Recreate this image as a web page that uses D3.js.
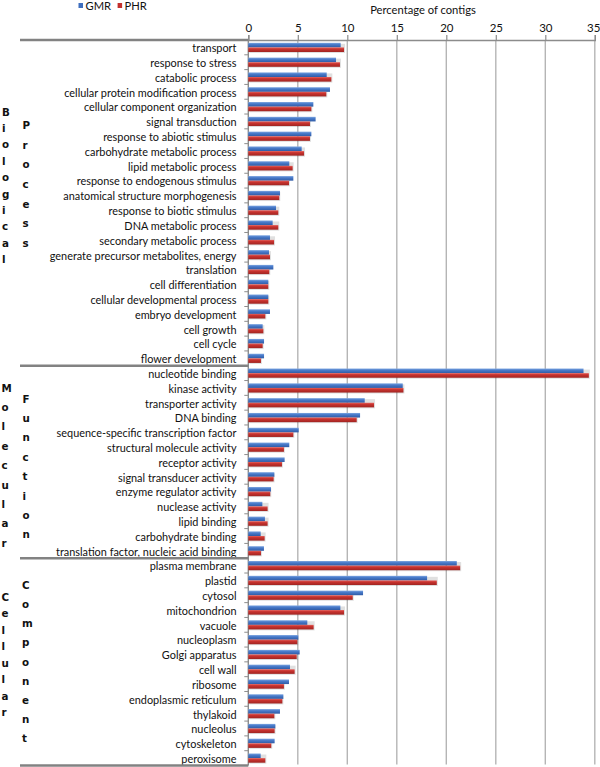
<!DOCTYPE html>
<html>
<head>
<meta charset="utf-8">
<script src="https://cdn.jsdelivr.net/npm/d3@7"></script>
<style>
  body { margin: 0; background: #fff; }
  svg { display: block; }
</style>
</head>
<body>
<svg width="600" height="767"></svg>
<script>
// GO categories, top to bottom
var categories = [
  "transport", "response to stress", "catabolic process", "cellular protein modification process",
  "cellular component organization", "signal transduction", "response to abiotic stimulus",
  "carbohydrate metabolic process", "lipid metabolic process", "response to endogenous stimulus",
  "anatomical structure morphogenesis", "response to biotic stimulus", "DNA metabolic process",
  "secondary metabolic process", "generate precursor metabolites, energy", "translation",
  "cell differentiation", "cellular developmental process", "embryo development", "cell growth",
  "cell cycle", "flower development",
  "nucleotide binding", "kinase activity", "transporter activity", "DNA binding",
  "sequence-specific transcription factor", "structural molecule activity", "receptor activity",
  "signal transducer activity", "enzyme regulator activity", "nuclease activity", "lipid binding",
  "carbohydrate binding", "translation factor, nucleic acid binding",
  "plasma membrane", "plastid", "cytosol", "mitochondrion", "vacuole", "nucleoplasm",
  "Golgi apparatus", "cell wall", "ribosome", "endoplasmic reticulum", "thylakoid", "nucleolus",
  "cytoskeleton", "peroxisome"
];

var gmr = [
  9.33, 8.86, 7.92, 8.25, 6.57, 6.8, 6.37, 5.39, 4.14, 4.55, 3.2, 2.8, 2.46,
  2.19, 2.09, 2.53, 2.02, 2.02, 2.19, 1.45, 1.59, 1.59,
  33.86, 15.6, 11.76, 11.29, 5.09, 4.14, 3.67, 2.63, 2.29, 1.42, 1.68, 1.25, 1.58,
  21.06, 18.06, 11.59, 9.3, 5.96, 5.05, 5.19, 4.21, 4.11, 3.54, 3.2, 2.73, 2.66, 1.25
];

var phr = [
  9.67, 9.26, 8.39, 7.88, 6.37, 6.23, 6.23, 5.63, 4.48, 4.11, 3.13, 3.03, 3.03,
  2.6, 2.19, 2.12, 2.02, 2.02, 1.72, 1.52, 1.45, 1.28,
  34.4, 15.67, 12.7, 10.95, 4.55, 3.6, 3.4, 2.56, 2.22, 1.95, 1.95, 1.65, 1.28,
  21.4, 19.04, 10.55, 9.67, 6.6, 4.95, 4.89, 4.68, 3.6, 3.44, 2.63, 2.66, 2.32, 1.72
];

var groupSizes = [22, 13, 14];
var groupWords = [["Biological", "Process"], ["Molecular", "Function"], ["Cellular", "Component"]];
var seriesNames = ["GMR", "PHR"];
var xTicks = [0, 5, 10, 15, 20, 25, 30, 35];

var svg = d3.select("svg"),
    width = +svg.attr("width"),
    height = +svg.attr("height");

var x0 = 248.3, x1 = 594.8, yTop = 40, yBot = 765.5;
var labelFont = "Lato, 'Open Sans', sans-serif";

var x = d3.scaleLinear().domain([0, 35]).range([x0, x1]);
var y = d3.scaleBand().domain(categories).range([yTop, yBot]).padding(0);

// bar gradients
var defs = svg.append("defs");
function grad(id, stops) {
    var g = defs.append("linearGradient").attr("id", id)
        .attr("x1", 0).attr("y1", 0).attr("x2", 0).attr("y2", 1);
    stops.forEach(function(s) { g.append("stop").attr("offset", s[0]).attr("stop-color", s[1]); });
}
grad("gBlue", [[0, "#7ea6e0"], [0.35, "#4a7ccb"], [1, "#2f5ba6"]]);
grad("gRed", [[0, "#e4625d"], [0.35, "#c9332f"], [1, "#a02421"]]);

// gridlines
svg.append("g").selectAll("line")
    .data(xTicks.slice(1))
    .enter().append("line")
    .attr("x1", function(d) { return x(d); })
    .attr("x2", function(d) { return x(d); })
    .attr("y1", yTop).attr("y2", yBot - 1)
    .attr("stroke", "#b5b5b5")
    .attr("stroke-width", 1.4);

// top axis
var xAxis = svg.append("g")
    .attr("transform", "translate(0," + yTop + ")")
    .call(d3.axisTop(x).tickValues(xTicks).tickSize(5).tickPadding(2));
xAxis.select(".domain").attr("stroke", "#8c8c8c").attr("stroke-width", 1.4);
xAxis.selectAll(".tick line").attr("stroke", "#8c8c8c").attr("stroke-width", 1.2);
xAxis.selectAll(".tick text")
    .attr("font-family", labelFont).attr("font-size", 11.5).attr("fill", "#111")
    .attr("dy", "-0.05em");
// last label sits against the right edge
xAxis.selectAll(".tick text").filter(function(d) { return d == 35; })
    .attr("text-anchor", "end").attr("x", 5);

svg.append("text")
    .attr("x", 423).attr("y", 13.5)
    .attr("text-anchor", "middle")
    .attr("font-family", labelFont).attr("font-size", 11.2).attr("fill", "#111")
    .text("Percentage of contigs");

// legend
var legend = svg.append("g");
var legX = [78.5, 117.6];
seriesNames.forEach(function(name, i) {
    legend.append("rect")
        .attr("x", legX[i]).attr("y", 3).attr("width", 4.5).attr("height", 5)
        .attr("fill", i == 0 ? "#3f6fbf" : "#c3302d");
    legend.append("text")
        .attr("x", legX[i] + 7).attr("y", 9.5)
        .attr("font-family", labelFont).attr("font-size", 11.2).attr("fill", "#111")
        .text(name);
});

// y axis line and small ticks between bands
svg.append("line")
    .attr("x1", x0).attr("x2", x0).attr("y1", yTop).attr("y2", yBot)
    .attr("stroke", "#8c8c8c").attr("stroke-width", 1.4);
svg.append("g").selectAll("line")
    .data(categories.slice(1))
    .enter().append("line")
    .attr("x1", x0 - 4).attr("x2", x0)
    .attr("y1", function(d) { return y(d); })
    .attr("y2", function(d) { return y(d); })
    .attr("stroke", "#8c8c8c").attr("stroke-width", 1);

// bars
var bh = 4.6;
var rows = svg.append("g").selectAll("g")
    .data(categories)
    .enter().append("g")
    .attr("transform", function(d) { return "translate(0," + (y(d) + y.bandwidth() / 2) + ")"; });

rows.append("rect")
    .attr("x", x0 + 1).attr("y", -bh + 1)
    .attr("width", function(d, i) { return Math.max(0, x(phr[i]) - x0); })
    .attr("height", bh * 2)
    .attr("fill", "#000").attr("opacity", 0.12);

rows.append("rect")
    .attr("x", x0).attr("y", -bh)
    .attr("width", function(d, i) { return x(gmr[i]) - x0; })
    .attr("height", bh)
    .attr("fill", "url(#gBlue)");

rows.append("rect")
    .attr("x", x0).attr("y", 0)
    .attr("width", function(d, i) { return x(phr[i]) - x0; })
    .attr("height", bh)
    .attr("fill", "url(#gRed)");

// category labels
rows.append("text")
    .attr("x", 236.5).attr("y", 1)
    .attr("dy", "0.35em")
    .attr("text-anchor", "end")
    .attr("font-family", labelFont).attr("font-size", 10.9).attr("fill", "#111")
    .text(function(d) { return d; });

// group separators on the left
var bounds = [0];
groupSizes.forEach(function(n, i) { bounds.push(bounds[i] + n); });
svg.append("g").selectAll("line")
    .data(bounds)
    .enter().append("line")
    .attr("x1", 20).attr("x2", x0)
    .attr("y1", function(d) { return d < categories.length ? y(categories[d]) : yBot; })
    .attr("y2", function(d) { return d < categories.length ? y(categories[d]) : yBot; })
    .attr("stroke", "#828282").attr("stroke-width", 2.4);

// stacked vertical group names: first baseline and letter step per word
var wordLayout = [
    [{x: 2, y: 115.7, step: 16.37}, {x: 22.5, y: 129.3, step: 19.56}],
    [{x: 1.5, y: 391.7, step: 19.37}, {x: 22.5, y: 402.7, step: 19.37}],
    [{x: 1.5, y: 601, step: 16.46}, {x: 22, y: 589, step: 19.16}]
];
groupWords.forEach(function(words, gi) {
    words.forEach(function(w, wi) {
        var L = wordLayout[gi][wi];
        svg.append("g").selectAll("text")
            .data(w.split(""))
            .enter().append("text")
            .attr("x", L.x)
            .attr("y", function(c, k) { return L.y + k * L.step; })
            .attr("font-family", "'DejaVu Sans', sans-serif")
            .attr("font-weight", "bold")
            .attr("font-size", 10.3)
            .attr("fill", "#111")
            .text(function(c) { return c; });
    });
});
</script>
</body>
</html>
